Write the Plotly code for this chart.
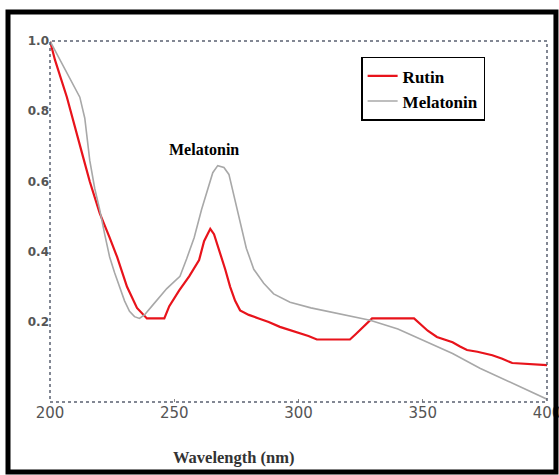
import plotly.graph_objects as go

# Rutin spectrum
rutin_x = [200, 202, 206.8, 210, 213.3, 216, 220, 224, 227, 231, 235, 239, 246, 248, 252, 256, 260, 262,
           264.5, 266, 268.5, 270.5, 272.5, 274.5, 276.5, 280, 284, 288, 292.5, 296, 300.6, 304, 307.4,
           320.7, 323, 326, 329.6, 346.5, 349, 352, 355.7, 362, 365, 367.8, 372, 378, 382, 386, 400]
rutin_y = [1.0, 0.946, 0.84, 0.76, 0.67, 0.60, 0.51, 0.44, 0.385, 0.30, 0.24, 0.21, 0.21, 0.245, 0.29,
           0.33, 0.376, 0.43, 0.465, 0.45, 0.396, 0.35, 0.30, 0.26, 0.233, 0.22, 0.21, 0.20, 0.186, 0.178,
           0.168, 0.16, 0.15, 0.15, 0.165, 0.185, 0.21, 0.21, 0.195, 0.175, 0.157, 0.142, 0.13, 0.12,
           0.115, 0.105, 0.095, 0.083, 0.077]

# Melatonin spectrum
mel_x = [200, 206, 212, 214, 216, 218, 220, 222, 224, 226, 228, 230, 232, 234, 236, 238, 241, 244, 247,
         250, 252.3, 255, 258, 261, 263.6, 265.5, 267.5, 270, 272, 274, 276.5, 279, 282, 286, 290, 296.6,
         305, 315, 328.8, 340, 350, 362, 373, 386, 400]
mel_y = [1.0, 0.92, 0.84, 0.78, 0.66, 0.58, 0.52, 0.45, 0.385, 0.34, 0.30, 0.26, 0.23, 0.215, 0.21, 0.22,
         0.245, 0.27, 0.295, 0.315, 0.33, 0.38, 0.44, 0.52, 0.584, 0.625, 0.645, 0.64, 0.62, 0.56, 0.48,
         0.41, 0.35, 0.31, 0.28, 0.256, 0.24, 0.225, 0.205, 0.18, 0.148, 0.11, 0.068, 0.025, -0.02]

x_ticks = [200, 250, 300, 350, 400]
y_ticks = [0.2, 0.4, 0.6, 0.8, 1.0]
y_tick_labels = ["0.2", "0.4", "0.6", "0.8", "1.0"]

fig = go.Figure()
fig.add_trace(go.Scatter(x=rutin_x, y=rutin_y, mode="lines", name="Rutin",
                         line=dict(color="#e8131b", width=2.2)))
fig.add_trace(go.Scatter(x=mel_x, y=mel_y, mode="lines", name="Melatonin",
                         line=dict(color="#a8a8a8", width=1.6)))

serif = "Liberation Serif"

fig.update_layout(
    width=559, height=475,
    margin=dict(l=50, r=12, t=41, b=73, autoexpand=False),
    paper_bgcolor="white", plot_bgcolor="white",
    showlegend=True,
    legend=dict(x=0.626, y=0.956, xanchor="left", yanchor="top",
                bordercolor="black", borderwidth=1.5, bgcolor="white",
                font=dict(family=serif, size=17, color="black", weight="bold"),
                tracegroupgap=0, itemwidth=30),
    xaxis=dict(range=[200, 400], tickvals=x_ticks, showgrid=False, zeroline=False,
               showline=False, ticks="inside", ticklen=3, tickcolor="#888",
               ticklabeloverflow="allow", automargin=False,
               tickfont=dict(family="DejaVu Sans", size=15, color="#555")),
    yaxis=dict(range=[-0.028, 1.0], tickvals=y_ticks, ticktext=y_tick_labels, showgrid=False,
               zeroline=False, showline=False, ticks="", automargin=False,
               tickfont=dict(family="DejaVu Sans", size=12, color="#555", weight="bold")),
    shapes=[
        dict(type="rect", xref="paper", yref="paper", x0=0, x1=1, y0=0, y1=1,
             line=dict(color="#5a6070", width=1.5, dash="dot")),
        dict(type="rect", xref="paper", yref="paper", x0=-0.0845, x1=1.018, y0=-0.194, y1=1.080,
             line=dict(color="black", width=5)),
    ],
    annotations=[
        dict(text="Melatonin", x=262, y=0.69, xref="x", yref="y", showarrow=False,
             font=dict(family=serif, size=16, color="black", weight="bold")),
        dict(text="Wavelength (nm)", x=0.370, y=-0.155, xref="paper", yref="paper", showarrow=False,
             xanchor="center", yanchor="middle",
             font=dict(family=serif, size=16.5, color="#333", weight="bold")),
    ],
)

fig.write_html("out.html",
               config={"displayModeBar": False},
               post_script="document.body.style.margin='0';document.body.style.overflow='hidden';")
